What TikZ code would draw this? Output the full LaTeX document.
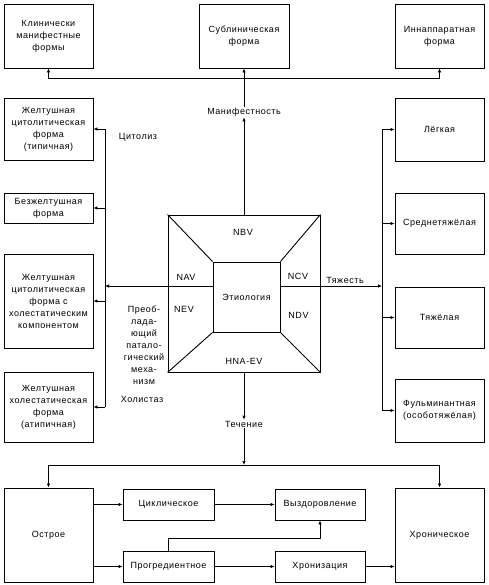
\documentclass[tikz,border=0pt]{standalone}
\usepackage{fontspec}
\setmainfont[LetterSpace=6]{Liberation Sans}
\usetikzlibrary{arrows.meta}
\begin{document}
\begin{tikzpicture}[x=1pt,y=-1pt,
 every node/.style={font=\fontsize{9}{12}\selectfont},
 box/.style={draw, line width=0.9pt, align=center, inner sep=0pt},
 lbl/.style={inner sep=1pt, align=center},
 ln/.style={line width=0.9pt},
 arr/.style={line width=0.9pt, -{Latex[length=4pt,width=3.5pt]}}]
\useasboundingbox (0,0) rectangle (488,585);
% top
\node[box,minimum width=89,minimum height=64] (T1) at (48.5,36) {Клинически\\манифестные\\формы};
\node[box,minimum width=90,minimum height=64] (T2) at (244,36) {Сублиническая\\форма};
\node[box,minimum width=89,minimum height=64] (T3) at (439.5,36) {Иннаппаратная\\форма};
% left
\node[box,minimum width=89,minimum height=62] (L1) at (48.5,129) {Желтушная\\цитолитическая\\форма\\(типичная)};
\node[box,minimum width=89,minimum height=30] (L2) at (48.5,208) {Безжелтушная\\форма};
\node[box,minimum width=89,minimum height=94] (L3) at (48.5,301) {Желтушная\\цитолитическая\\форма с\\холестатическим\\компонентом};
\node[box,minimum width=89,minimum height=70] (L4) at (48.5,407) {Желтушная\\холестатическая\\форма\\(атипичная)};
% right
\node[box,minimum width=89,minimum height=63] (R1) at (439.5,129.5) {Лёгкая};
\node[box,minimum width=89,minimum height=61] (R2) at (439.5,223.5) {Среднетяжёлая};
\node[box,minimum width=89,minimum height=61] (R3) at (439.5,317.5) {Тяжёлая};
\node[box,minimum width=89,minimum height=63] (R4) at (439.5,410.5) {Фульминантная\\(особотяжёлая)};
% center
\node[box,minimum width=152,minimum height=157] (C) at (244,293.5) {};
\node[box,minimum width=67,minimum height=70] (E) at (246.5,297) {Этиология};
\draw[ln] (C.north west) -- (E.north west);
\draw[ln] (C.north east) -- (E.north east);
\draw[ln] (C.south west) -- (E.south west);
\draw[ln] (C.south east) -- (E.south east);
\coordinate (cl) at (168,286);
\coordinate (cr) at (320,286);
\draw[ln] (cl) -- (cl -| E.west);
\draw[ln] (cr -| E.east) -- (cr);
\node[lbl] (nbv) at (243,232) {NBV};
\node[lbl] (nav) at (186,277) {NAV};
\node[lbl] (ncv) at (298,276) {NCV};
\node[lbl] (nev) at (184,309) {NEV};
\node[lbl] (ndv) at (298.5,315) {NDV};
\node[lbl] (hna) at (244,361) {HNA-EV};
% top connectors
\coordinate (tb) at (244,78);
\draw[arr] (tb) -| (T1.south);
\draw[arr] (tb) -| (T3.south);
\draw[arr] (tb) -- (T2.south);
\node[lbl] (man) at (244,112) {Манифестность};
\draw[arr] (C.north) -- (man.south);
\draw[ln] (man.north) -- (tb);
% left bus
\coordinate (lb) at (105,286);
\draw[arr] (cl) -- (lb);
\draw[ln] (L1.east -| lb) -- (L4.east -| lb);
\foreach \n in {L1,L2,L3,L4} \draw[arr] (\n.east -| lb) -- (\n.east);
\node[lbl] (cyt) at (138,137) {Цитолиз};
\node[lbl] (hol) at (142,399) {Холистаз};
\node[lbl] (mech) at (144,345) {Преоб-\\лада-\\ющий\\патало-\\гический\\меха-\\низм};
% right bus
\coordinate (rb) at (382,286);
\draw[arr] (cr) -- (rb);
\draw[ln] (R1.west -| rb) -- (R4.west -| rb);
\foreach \n in {R1,R2,R3,R4} \draw[arr] (\n.west -| rb) -- (\n.west);
\node[lbl] (tya) at (345,280) {Тяжесть};
% bottom
\node[box,minimum width=89,minimum height=94] (Os) at (48.5,535) {Острое};
\node[box,minimum width=89,minimum height=94] (Ch) at (439.5,535) {Хроническое};
\node[box,minimum width=91,minimum height=31] (Cy) at (168.5,504.5) {Циклическое};
\node[box,minimum width=91,minimum height=31] (Pr) at (168.5,566.5) {Прогредиентное};
\node[box,minimum width=90,minimum height=31] (Vy) at (320,504.5) {Выздоровление};
\node[box,minimum width=90,minimum height=31] (Hz) at (320,566.5) {Хронизация};
\node[lbl] (tech) at (244,424) {Течение};
\draw[arr] (C.south) -- (tech.north);
\coordinate (bb) at (244,465);
\draw[arr] (tech.south) -- (bb);
\draw[arr] (bb) -| (Os.north);
\draw[arr] (bb) -| (Ch.north);
\draw[arr] (Os.east |- Cy.west) -- (Cy.west);
\draw[arr] (Os.east |- Pr.west) -- (Pr.west);
\draw[arr] (Cy.east) -- (Vy.west);
\draw[arr] (Pr.north) -- ++(0,-12) -| (Vy.south);
\draw[arr] (Pr.east) -- (Hz.west);
\draw[arr] (Hz.east) -- (Hz.east -| Ch.west);
\end{tikzpicture}
\end{document}
